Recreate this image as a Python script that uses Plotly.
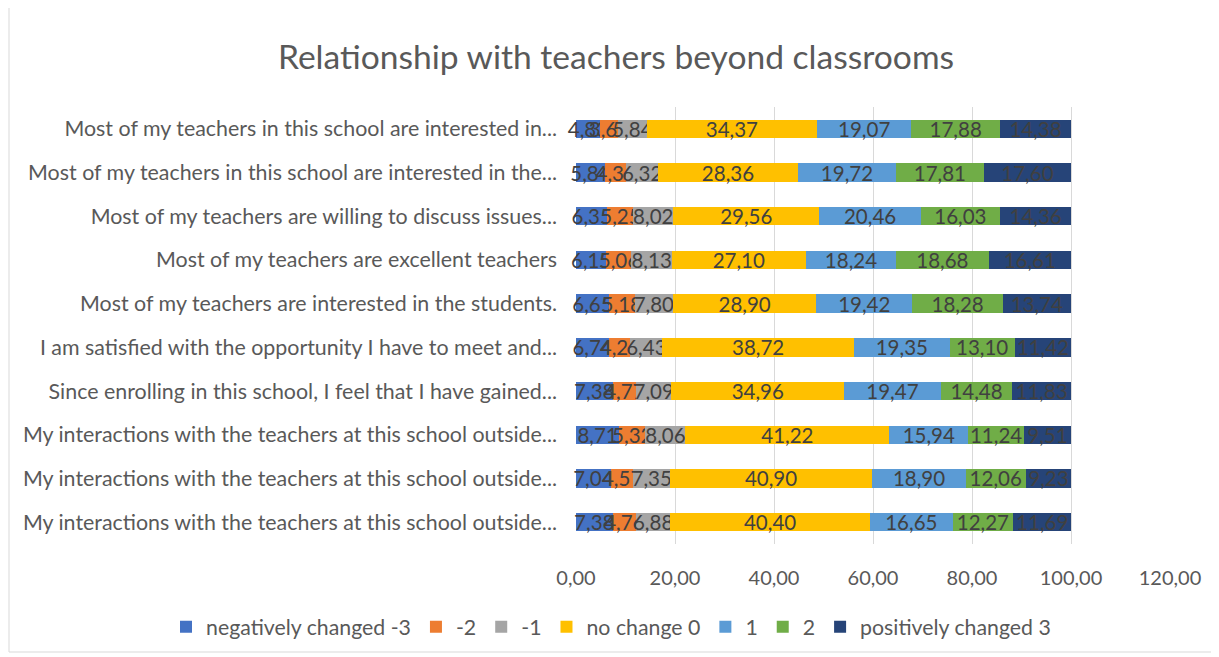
import plotly.graph_objects as go

# Categories from top to bottom as shown in the chart
categories = [
    "Most of my teachers in this school are interested in...",
    "Most of my teachers in this school are interested in the...",
    "Most of my teachers are willing to discuss issues...",
    "Most of my teachers are excellent teachers",
    "Most of my teachers are interested in the students.",
    "I am satisfied with the opportunity I have to meet and...",
    "Since enrolling in this school, I feel that I have gained...",
    "My interactions with the teachers at this school outside...",
    "My interactions with the teachers at this school outside...",
    "My interactions with the teachers at this school outside...",
]

series_names = ["negatively changed -3", "-2", "-1", "no change 0", "1", "2", "positively changed 3"]

neg3 = [4.83, 5.84, 6.35, 6.15, 6.65, 6.74, 7.38, 8.71, 7.04, 7.38]
neg2 = [3.65, 4.36, 5.25, 5.06, 5.18, 4.26, 4.77, 5.32, 4.57, 4.76]
neg1 = [5.84, 6.32, 8.02, 8.13, 7.80, 6.43, 7.09, 8.06, 7.35, 6.88]
zero = [34.37, 28.36, 29.56, 27.10, 28.90, 38.72, 34.96, 41.22, 40.90, 40.40]
pos1 = [19.07, 19.72, 20.46, 18.24, 19.42, 19.35, 19.47, 15.94, 18.90, 16.65]
pos2 = [17.88, 17.81, 16.03, 18.68, 18.28, 13.10, 14.48, 11.24, 12.06, 12.27]
pos3 = [14.38, 17.60, 14.36, 16.61, 13.74, 11.42, 11.83, 9.51, 9.23, 11.69]

colors = ["#4472C4", "#ED7D31", "#A5A5A5", "#FFC000", "#5B9BD5", "#70AD47", "#264478"]

x_ticks = [0, 20, 40, 60, 80, 100, 120]

series_values = [neg3, neg2, neg1, zero, pos1, pos2, pos3]

n = len(categories)
ypos = [n - 1 - i for i in range(n)]

W, H = 1219, 657
OFF = 8  # page body margin offset
L, R, T, B = 576 - OFF, W - 1170 + OFF, 107 - OFF, H - 544 + OFF
PW, PH = W - L - R, H - T - B

fig = go.Figure()
for name, vals, col in zip(series_names, series_values, colors):
    fig.add_trace(go.Bar(
        x=vals, y=ypos, orientation="h", name=name,
        marker=dict(color=col, line=dict(width=0)),
        texttemplate="%{x:.2f}", textposition="inside",
        insidetextanchor="middle", textangle=0,
        constraintext="none", cliponaxis=False,
        textfont=dict(family="Lato", size=20.5, color="#404040"),
        width=0.42,
    ))

fig.update_layout(
    barmode="stack",
    width=W, height=H,
    separators=", ",
    paper_bgcolor="white", plot_bgcolor="white",
    margin=dict(l=L, r=R, t=T, b=B, autoexpand=False),
    title=dict(text="Relationship with teachers beyond classrooms",
               x=(616 - OFF) / W, xref="container", xanchor="center",
               y=1 - (57 - OFF) / H, yref="container", yanchor="middle",
               font=dict(family="Lato", size=33.6, color="#595959")),
    font=dict(family="Lato", size=16, color="#595959"),
    uniformtext=dict(minsize=20, mode="show"),
    legend=dict(orientation="h", x=(166 - OFF - L) / PW, xanchor="left",
                y=-(627 - 544) / PH, yanchor="middle",
                font=dict(family="Lato", size=21.3, color="#595959"),
                traceorder="normal", itemwidth=30),
    showlegend=True,
)

fig.update_xaxes(
    range=[0, 120], tickvals=x_ticks, tickformat=".2f",
    showgrid=True, gridcolor="#d9d9d9", gridwidth=1,
    zeroline=False, showline=False, ticks="",
    ticklabelstandoff=20,
    tickfont=dict(family="Lato", size=20, color="#595959"),
)
fig.update_yaxes(
    tickvals=ypos, ticktext=categories, range=[-0.5, n - 0.5],
    showgrid=False, zeroline=False, showline=False, ticks="",
    ticklabelstandoff=18,
    tickfont=dict(family="Lato", size=21.4, color="#595959"),
)

fig.add_shape(type="rect", xref="paper", yref="paper",
              x0=(1 - L) / PW, x1=(1212 - OFF - L) / PW,
              y0=(544 - 652) / PH, y1=(544 - 3) / PH,
              line=dict(color="#d9d9d9", width=1), layer="below")

fig.write_html("out.html")
